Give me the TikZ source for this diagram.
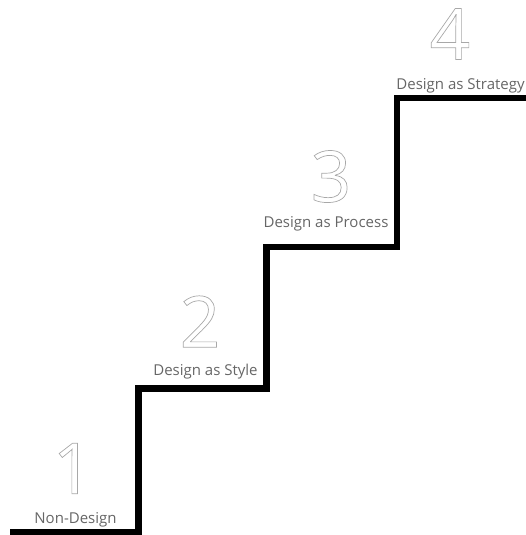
\documentclass[tikz,border=0pt]{standalone}
\usepackage{fontspec}
\setmainfont{Open Sans}
\usetikzlibrary{positioning}
\definecolor{labelgray}{HTML}{666666}
\newcommand{\hollow}[1]{\special{pdf:literal direct 1 Tr 0.7 w 0.66 G}#1\special{pdf:literal direct 0 Tr 0 G}}
\tikzset{
  stair/.style={line width=6.5pt, line join=miter, line cap=butt},
  digit/.style={inner sep=0pt, font=\fontsize{71}{71}\selectfont},
  caption/.style={inner sep=0pt, anchor=base, text=labelgray, font=\fontsize{15}{18}\selectfont},
}

\begin{document}
\begin{tikzpicture}[x=1pt, y=-1pt]
    \useasboundingbox (0,0) rectangle (526,535);
    % staircase
    \draw[stair] (10,532) -- (138.5,532) -- (138.5,388.5) -- (266.5,388.5)
      -- (266.5,247) -- (397,247) -- (397,98) -- (526,98);
    % step captions
    \node[caption] (lbl1) at (75.5,523) {Non-Design};
    \node[caption] (lbl2) at (205.5,375.7) {Design as Style};
    \node[caption] (lbl3) at (326,227) {Design as Process};
    \node[caption] (lbl4) at (460.5,89) {Design as Strategy};
    % step numbers
    \node[digit] (num1) at (73,468.5) {\hollow{1}};
    \node[digit] (num2) at (200,321.5) {\hollow{2}};
    \node[digit] (num3) at (331,176.5) {\hollow{3}};
    \node[digit] (num4) at (450,34) {\hollow{4}};
  \end{tikzpicture}
\end{document}
